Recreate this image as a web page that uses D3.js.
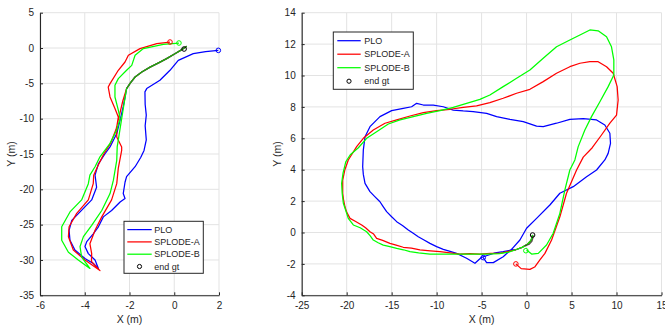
<!DOCTYPE html>
<html><head><meta charset="utf-8">
<script src="https://cdn.jsdelivr.net/npm/d3@7"></script>
<style>
body{margin:0;background:#fff}
svg{display:block}
text{font-family:"Liberation Sans",Arial,Helvetica,sans-serif;fill:#262626}
</style>
</head><body>
<svg id="c" width="665" height="326"></svg>
<script>
// ---------- series / legend ----------
const seriesNames = ["PLO", "SPLODE-A", "SPLODE-B"];
const seriesColors = ["#0000ff", "#ff0000", "#00ff00"];
const gtName = "end gt";

// ---------- left panel ticks ----------
const leftXTicks = [-6, -4, -2, 0, 2];
const leftYTicks = [-35, -30, -25, -20, -15, -10, -5, 0, 5];

// ---------- left panel data ----------
const leftCommon = [[0.56,0.25],[0.3,-0.3],[0.03,-0.8],[-0.34,-1.5],[-0.7,-2.1],[-1.08,-2.7],[-1.45,-3.4],[-1.75,-4.1],[-1.95,-4.9],[-2.13,-5.74]];
const leftPLO = leftCommon.concat([[-2.2,-7],[-2.28,-8.3],[-2.42,-10.2],[-2.57,-12.1],[-2.87,-14],[-3.1,-15],[-3.39,-16.4],[-3.54,-18],[-3.47,-19.7],[-3.69,-21.5],[-4.21,-23.2],[-4.58,-24.4],[-4.7,-25.8],[-4.66,-27.2],[-4.44,-28.6],[-3.99,-29.8],[-3.62,-30.5],[-3.39,-31.2],
  [-3.54,-30],[-3.84,-29.1],[-3.99,-28.1],[-3.91,-27.4],[-3.62,-26.3],[-3.39,-25.3],[-3.17,-23.9],[-2.8,-23],[-2.42,-21.8],[-2.2,-21.3],[-2.28,-20.6],[-2.2,-19],[-2.13,-18.2],[-1.75,-16.8],[-1.5,-15.5],[-1.35,-14.5],[-1.25,-13],[-1.3,-11],[-1.25,-9.5],[-1.3,-8],[-1.31,-6.2],[-1.23,-5.74],[-0.64,-4.57],[-0.19,-3.15],[0.18,-1.74],[0.85,-0.8],[1.4,-0.5],[1.97,-0.33]]);
const leftA = leftCommon.concat([[-2.3,-7.5],[-2.45,-9.5],[-2.6,-11.5],[-2.85,-13.5],[-3.15,-15],[-3.4,-16.6],[-3.6,-18],[-3.62,-19.2],[-3.84,-21.5],[-4.36,-23.4],[-4.7,-25.3],[-4.73,-26.7],[-4.51,-28.6],[-3.99,-30],[-3.32,-31.5],
  [-3.7,-30.2],[-3.69,-29.1],[-3.77,-27.7],[-3.54,-25.8],[-3.24,-23.9],[-2.8,-21.5],[-2.57,-19.2],[-2.5,-17],[-2.35,-14.5],[-2.35,-14],[-2.57,-12.6],[-2.57,-11.2],[-2.5,-9.76],[-2.65,-8.57],[-2.87,-6.93],[-2.95,-5.52],[-2.87,-5.04],[-2.5,-3.15],[-2.2,-1.98],[-2.05,-1.03],[-1.53,-0.08],[-0.78,0.62],[-0.19,0.85]]);
const leftB = leftCommon.concat([[-2.25,-8],[-2.35,-10],[-2.45,-12],[-2.55,-14],[-2.57,-15.9],[-2.72,-18.7],[-2.87,-20.6],[-3.24,-23],[-3.69,-25.1],[-4.06,-26.7],[-4.21,-28.1],[-4.14,-29.6],[-3.77,-31.2],
  [-4.29,-30],[-4.73,-28.9],[-5.03,-27.2],[-5.03,-25.3],[-4.66,-23.2],[-4.14,-21.5],[-3.84,-19.2],[-3.77,-18],[-3.54,-16.8],[-3.32,-15.4],[-2.87,-13.5],[-2.57,-11.6],[-2.42,-10],[-2.5,-8.8],[-2.65,-6.93],[-2.65,-5.28],[-2.5,-4.33],[-2.13,-3.15],[-1.9,-2.45],[-1.75,-1.03],[-1.38,-0.08],[-0.49,0.52],[0.21,0.71]]);
const leftGtStart = leftCommon;
const leftEnds = [[1.97,-0.33],[-0.19,0.85],[0.21,0.71]];
const leftGtEnd = [0.44,-0.14];

// ---------- right panel ticks ----------
const rightXTicks = [-25, -20, -15, -10, -5, 0, 5, 10, 15];
const rightYTicks = [-4, -2, 0, 2, 4, 6, 8, 10, 12, 14];

// ---------- right panel data ----------
const rightCommon = [[0.67,-0.16],[0.5,-0.5],[0.1,-0.75],[-0.5,-0.95],[-1.2,-1.1]];
const rightPLO = rightCommon.concat([[-1.5,-1.1],[-2.6,-1.22],[-3.5,-1.3],[-4.3,-1.45],[-5.0,-1.58],[-5.74,-1.96],[-6.67,-1.64],[-7.78,-1.33],[-8.5,-1.2],[-9.26,-1.07],[-10.0,-0.9],[-10.74,-0.69],[-11.4,-0.48],[-12.04,-0.27],[-12.6,-0.05],[-13.15,0.16],[-13.8,0.45],[-14.44,0.69],[-15.0,1.0],[-15.56,1.33],[-16.0,1.7],[-16.3,1.96],[-16.9,2.3],[-17.41,2.6],[-17.96,3.13],[-18.15,3.7],[-18.22,4.19],[-18.15,5.25],[-17.96,6.1],[-17.41,6.74],[-16.3,7.38],[-15,7.76],[-13.71,7.91],[-12.78,8.01],[-12.22,8.23],[-11.48,8.12],[-10.37,8.12],[-9.26,8.01],[-8.15,7.8],[-7.04,7.74],[-5.93,7.7],[-4.44,7.59],[-3.33,7.38],[-1.85,7.21],[-0.37,7.06],[1.11,6.78],[1.85,6.74],[3.33,6.96],[4.81,7.21],[6.3,7.25],[7.78,7.17],[8.7,6.85],[9.26,6.32],[9.33,5.68],[9.07,5.04],[8.7,4.62],[7.78,3.98],[6.67,3.55],[5.19,2.92],[3.7,2.5],[2.59,1.75],[1.11,0.9],[0,0.27],[-0.74,-0.48],[-1.67,-1.07],[-2.6,-1.54],[-3.7,-1.92],[-4.44,-1.92],[-4.82,-1.6]]);
const rightA = rightCommon.concat([[-2.0,-1.2],[-2.97,-1.33],[-4,-1.33],[-5.19,-1.37],[-6.3,-1.35],[-7.41,-1.37],[-8.5,-1.3],[-9.63,-1.22],[-10.7,-1.17],[-11.86,-1.11],[-12.8,-1.0],[-13.71,-0.94],[-14.5,-0.8],[-15.19,-0.69],[-16,-0.5],[-16.67,-0.37],[-17.0,-0.1],[-17.41,0.05],[-17.9,0.3],[-18.33,0.48],[-19.0,0.7],[-19.63,0.9],[-20.0,1.3],[-20.19,1.64],[-20.35,2.1],[-20.44,2.5],[-20.44,3.34],[-20.2,4.0],[-19.82,4.62],[-18.89,5.47],[-18.15,6.0],[-17.04,6.53],[-15.74,6.96],[-14.44,7.17],[-12.96,7.42],[-11.48,7.63],[-10,7.76],[-8.52,7.85],[-7.04,7.97],[-5.56,8.06],[-4.08,8.27],[-2.6,8.55],[-1.11,8.87],[0.37,9.12],[1.85,9.61],[3.33,10.14],[4.81,10.56],[5.93,10.78],[7.04,10.88],[7.96,10.88],[8.89,10.56],[9.63,10.14],[10.07,9.29],[10.18,8.44],[10,7.48],[9.26,6.96],[8.33,6.21],[7.3,5.4],[6.3,4.8],[5.56,3.98],[4.44,2.5],[3.7,1.0],[2.78,-0.48],[2.04,-1.33],[1.48,-1.75],[0.9,-2.2],[0.37,-2.35],[-0.6,-2.3],[-1.19,-2.0]]);
const rightB = rightCommon.concat([[-2.0,-1.25],[-3,-1.35],[-4.5,-1.37],[-6,-1.37],[-7.4,-1.37],[-8.52,-1.37],[-9.6,-1.37],[-10.74,-1.37],[-12,-1.3],[-12.96,-1.22],[-13.7,-1.1],[-14.44,-1.01],[-15.2,-0.9],[-15.93,-0.8],[-16.5,-0.65],[-17.04,-0.48],[-17.4,-0.2],[-17.78,0.05],[-18.5,0.3],[-19.26,0.48],[-19.82,0.9],[-20.1,1.4],[-20.37,1.86],[-20.5,2.5],[-20.56,3.13],[-20.4,3.8],[-20.1,4.5],[-19.6,4.95],[-18.7,5.4],[-17.78,6],[-16.67,6.42],[-15.37,6.91],[-14.07,7.17],[-12.59,7.38],[-11.11,7.59],[-9.63,7.76],[-8.15,7.97],[-6.67,8.23],[-5.19,8.48],[-4.08,8.76],[-2.6,9.29],[-1.11,9.82],[0.37,10.35],[1.85,11.1],[3.33,11.83],[4.81,12.26],[5.93,12.58],[7.04,12.9],[7.96,12.85],[8.89,12.47],[9.44,11.83],[9.7,10.99],[9.7,10.03],[9.07,9.29],[8.15,8.33],[7.22,7.38],[6.48,6.53],[5.74,5.47],[5.37,4.62],[4.81,3.98],[4.26,2.71],[3.7,1.22],[2.96,-0.05],[2.22,-0.8],[1.3,-1.33],[0.56,-1.37],[0,-1.11]]);
const rightGtStart = [[0.78,-0.2],[0.6,-0.55],[0.3,-0.75],[-0.2,-0.85]];
const rightEnds = [[-4.82,-1.6],[-1.19,-2.0],[-0.08,-1.16]];
const rightGtEnd = [0.67,-0.16];

// ---------- drawing ----------
const svg = d3.select("#c");
const axisColor = "#262626";
const gridColor = "#e3e3e3";

function panel(cfg) {
  const x = d3.scaleLinear().domain(cfg.xDomain).range(cfg.xRange);
  const y = d3.scaleLinear().domain(cfg.yDomain).range(cfg.yRange);
  const g = svg.append("g");
  const [x0, x1] = cfg.xRange, [y0, y1] = cfg.yRange; // y0 bottom, y1 top

  // grid
  g.selectAll(".gx").data(cfg.xTicks).enter().append("line")
    .attr("x1", d => x(d)).attr("x2", d => x(d)).attr("y1", y0).attr("y2", y1)
    .attr("stroke", gridColor).attr("stroke-width", 1);
  g.selectAll(".gy").data(cfg.yTicks).enter().append("line")
    .attr("y1", d => y(d)).attr("y2", d => y(d)).attr("x1", x0).attr("x2", x1)
    .attr("stroke", gridColor).attr("stroke-width", 1);

  // axes via d3 axis
  const xa = d3.axisBottom(x).tickValues(cfg.xTicks).tickSizeInner(-3).tickSizeOuter(0).tickPadding(7).tickFormat(d3.format("d"));
  const ya = d3.axisLeft(y).tickValues(cfg.yTicks).tickSizeInner(-3).tickSizeOuter(0).tickPadding(6).tickFormat(d3.format("d"));
  const gx = g.append("g").attr("transform", `translate(0,${y0})`).call(xa);
  const gy = g.append("g").attr("transform", `translate(${x0},0)`).call(ya);
  [gx, gy].forEach(a => {
    a.select(".domain").attr("stroke", axisColor).attr("stroke-width", 1.1);
    a.selectAll(".tick line").attr("stroke", axisColor);
    a.selectAll(".tick text").attr("fill", axisColor).style("font-size", "10px")
      .style("font-family", '"Liberation Sans",Arial,sans-serif').text(function(d){ return d < 0 ? "-" + Math.abs(d) : d; });
  });

  // axis labels
  g.append("text").attr("x", (x0 + x1) / 2).attr("y", cfg.xLabelY).attr("text-anchor", "middle")
    .style("font-size", "10.5px").text("X (m)");
  g.append("text").attr("transform", `translate(${cfg.yLabelX},${(y0 + y1) / 2}) rotate(-90)`)
    .attr("text-anchor", "middle").style("font-size", "10.5px").text("Y (m)");

  // lines
  const line = d3.line().x(d => x(d[0])).y(d => y(d[1])).curve(d3.curveLinear);
  cfg.series.forEach((s, i) => {
    g.append("path").datum(s).attr("d", line).attr("fill", "none")
      .attr("stroke", seriesColors[i]).attr("stroke-width", 1.25).attr("stroke-linejoin", "round");
  });
  g.append("path").datum(cfg.gtStart).attr("d", line).attr("fill", "none")
    .attr("stroke", "#3a3a2a").attr("stroke-opacity", cfg.gtOpacity).attr("stroke-width", 1.25);

  // end markers
  cfg.ends.forEach((p, i) => {
    g.append("circle").attr("cx", x(p[0])).attr("cy", y(p[1])).attr("r", 2.3)
      .attr("fill", "none").attr("stroke", seriesColors[i]).attr("stroke-width", 1);
  });
  g.append("circle").attr("cx", x(cfg.gtEnd[0])).attr("cy", y(cfg.gtEnd[1])).attr("r", 2.3)
    .attr("fill", "none").attr("stroke", "#000").attr("stroke-width", 1);

  // legend
  const L = cfg.legend;
  const lg = g.append("g");
  lg.append("rect").attr("x", L.x).attr("y", L.y).attr("width", L.w).attr("height", L.h)
    .attr("fill", "#fff").attr("stroke", axisColor).attr("stroke-width", 1);
  const items = seriesNames.concat([gtName]);
  items.forEach((name, i) => {
    const cy = L.y + L.first + i * L.step;
    if (i < 3) {
      lg.append("line").attr("x1", L.x + L.l1).attr("x2", L.x + L.l2).attr("y1", cy).attr("y2", cy)
        .attr("stroke", seriesColors[i]).attr("stroke-width", 1.25);
    } else {
      lg.append("circle").attr("cx", L.x + (L.l1 + L.l2) / 2).attr("cy", cy).attr("r", 2.1)
        .attr("fill", "none").attr("stroke", "#000").attr("stroke-width", 1);
    }
    lg.append("text").attr("x", L.x + L.tx).attr("y", cy).attr("dy", "0.35em")
      .style("font-size", "9px").text(name);
  });
}

panel({
  xDomain: [-6, 2], yDomain: [-35, 5], xRange: [40, 219], yRange: [295.3, 12.7],
  xTicks: leftXTicks, yTicks: leftYTicks, xLabelY: 323, yLabelX: 15,
  series: [leftPLO, leftA, leftB], gtStart: leftGtStart, gtOpacity: 0.45,
  ends: leftEnds, gtEnd: leftGtEnd,
  legend: {x: 124, y: 221.3, w: 79.3, h: 52, first: 8.3, step: 12.3, l1: 3.3, l2: 27.7, tx: 30.3}
});
panel({
  xDomain: [-25, 15], yDomain: [-4, 14], xRange: [301.7, 661.5], yRange: [295.3, 12.7],
  xTicks: rightXTicks, yTicks: rightYTicks, xLabelY: 323, yLabelX: 281,
  series: [rightPLO, rightA, rightB], gtStart: rightGtStart, gtOpacity: 0.85,
  ends: rightEnds, gtEnd: rightGtEnd,
  legend: {x: 333.3, y: 32, w: 80, h: 57.3, first: 8.7, step: 13.5, l1: 4, l2: 27.4, tx: 31}
});
</script>
</body></html>
